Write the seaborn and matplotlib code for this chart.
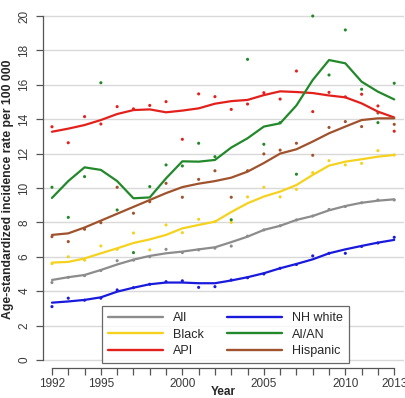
import matplotlib
matplotlib.use("Agg")
import matplotlib.pyplot as plt
import seaborn as sns
import pandas as pd
import numpy as np

years = list(range(1992, 2014))
groups = ["All", "Black", "API", "NH white", "AI/AN", "Hispanic"]
colors = ["#8c8c8c", "#f5d21e", "#e3211c", "#1a1adc", "#22892a", "#a0522d"]

all_smooth = [4.65, 4.81, 4.94, 5.23, 5.55, 5.83, 6.05, 6.2, 6.3, 6.43, 6.55, 6.85, 7.17, 7.56, 7.8, 8.14, 8.37, 8.7, 8.95, 9.14, 9.26, 9.34]
all_points = [4.5, 4.8, 4.9, 5.2, 5.77, 5.8, 6.0, 6.43, 6.24, 6.4, 6.5, 6.62, 7.2, 7.56, 7.8, 8.14, 8.37, 8.75, 8.92, 9.14, 9.3, 9.3]

black_smooth = [5.66, 5.7, 5.9, 6.2, 6.49, 6.8, 7.01, 7.27, 7.65, 7.85, 8.04, 8.6, 9.11, 9.5, 9.79, 10.17, 10.76, 11.3, 11.53, 11.67, 11.82, 11.92]
black_points = [5.6, 6.0, 5.8, 6.63, 6.43, 7.38, 6.4, 7.85, 7.4, 8.18, 8.04, 8.0, 9.48, 10.04, 9.48, 9.92, 10.89, 11.59, 11.34, 11.43, 12.17, 11.92]

api_smooth = [13.27, 13.45, 13.66, 13.95, 14.3, 14.53, 14.57, 14.4, 14.5, 14.63, 14.9, 15.05, 15.12, 15.4, 15.62, 15.58, 15.52, 15.38, 15.27, 14.92, 14.44, 14.1]
api_points = [13.56, 12.63, 14.15, 13.72, 14.73, 14.6, 14.8, 15.02, 12.83, 15.47, 15.31, 14.57, 14.88, 15.54, 15.17, 16.8, 14.44, 15.56, 15.3, 15.45, 14.77, 13.3]

nhw_smooth = [3.33, 3.4, 3.49, 3.64, 3.97, 4.2, 4.4, 4.5, 4.5, 4.46, 4.46, 4.62, 4.81, 5.04, 5.33, 5.58, 5.85, 6.2, 6.43, 6.63, 6.82, 6.98]
nhw_points = [3.1, 3.59, 3.47, 3.59, 4.07, 4.2, 4.4, 4.55, 4.6, 4.22, 4.26, 4.65, 4.78, 5.0, 5.33, 5.55, 6.05, 6.2, 6.2, 6.6, 6.8, 7.13]

aian_smooth = [9.42, 10.4, 11.2, 11.05, 10.4, 9.4, 9.45, 10.56, 11.55, 11.53, 11.63, 12.35, 12.89, 13.57, 13.76, 14.8, 16.28, 17.44, 17.25, 16.18, 15.6, 15.15]
aian_points = [10.04, 8.29, 10.66, 16.12, 8.72, 6.24, 10.08, 11.34, 11.28, 12.6, 11.82, 8.15, 17.48, 12.54, 13.8, 10.8, 20.0, 16.57, 19.19, 15.74, 13.8, 16.09]

hisp_smooth = [7.27, 7.36, 7.7, 8.1, 8.5, 8.9, 9.3, 9.7, 10.05, 10.25, 10.4, 10.6, 10.95, 11.45, 12.0, 12.25, 12.7, 13.18, 13.57, 13.95, 14.05, 14.05]
hisp_points = [7.17, 6.88, 7.6, 7.98, 10.04, 8.53, 9.2, 10.27, 9.46, 10.5, 11.0, 9.46, 11.0, 11.98, 12.2, 12.6, 11.9, 13.52, 13.86, 13.57, 14.36, 13.7]

x_tick_labels = ["1992", "1995", "2000", "2005", "2010", "2013"]
y_ticks = [0, 2, 4, 6, 8, 10, 12, 14, 16, 18, 20]

smooth = [all_smooth, black_smooth, api_smooth, nhw_smooth, aian_smooth, hisp_smooth]
points = [all_points, black_points, api_points, nhw_points, aian_points, hisp_points]

rows_s, rows_p = [], []
for g, s, p in zip(groups, smooth, points):
    for y, a, b in zip(years, s, p):
        rows_s.append({"Year": y, "Rate": a, "Group": g})
        rows_p.append({"Year": y, "Rate": b, "Group": g})
df_s = pd.DataFrame(rows_s)
df_p = pd.DataFrame(rows_p)

sns.set_theme(style="white")
plt.rcParams["font.family"] = ["Liberation Sans", "DejaVu Sans"]

fig = plt.figure(figsize=(4.06, 3.98), dpi=100)
ax = fig.add_axes([43 / 406, 30 / 398, 361 / 406, 358 / 398])
pal = dict(zip(groups, colors))

ax.set_axisbelow(True)
ax.yaxis.grid(True, color="#d9d9d9", lw=1.0)

sns.scatterplot(data=df_p, x="Year", y="Rate", hue="Group", hue_order=groups,
                palette=pal, s=5, linewidth=0, legend=False, ax=ax, zorder=3)
sns.lineplot(data=df_s, x="Year", y="Rate", hue="Group", hue_order=groups,
             palette=pal, lw=1.6, ax=ax, zorder=4)

ax.set_xlim(1991.45, 2013.6)
ax.set_ylim(-0.47, 20.35)

ax.set_xticks(years)
ax.set_xticklabels([str(y) if str(y) in x_tick_labels else "" for y in years])
ax.set_yticks(y_ticks)
ax.set_yticklabels([str(v) for v in y_ticks], rotation=90, va="center")
ax.tick_params(axis="both", length=5, width=0.9, color="#555555", labelsize=8.5,
               labelcolor="#3a3a3a", direction="out", bottom=True, left=True)
ax.tick_params(axis="x", pad=2)
ax.tick_params(axis="y", pad=4)

for sp in ["top", "right"]:
    ax.spines[sp].set_visible(False)
for sp in ["left", "bottom"]:
    ax.spines[sp].set_color("#555555")
    ax.spines[sp].set_linewidth(0.9)
ax.spines["left"].set_bounds(0, 20)
ax.spines["bottom"].set_bounds(1992, 2013)

ax.set_xlabel("Year", fontweight="bold", fontsize=8.5, labelpad=-3)
ax.set_ylabel("Age-standardized incidence rate per 100 000", fontweight="bold",
              fontsize=8.8, labelpad=3)

handles, labels = ax.get_legend_handles_labels()
leg = ax.legend(handles, labels, ncol=2, loc="upper left",
                bbox_to_anchor=(102 / 406, 1 - 306 / 398), bbox_transform=fig.transFigure,
                borderaxespad=0, frameon=True, fancybox=False, fontsize=9,
                handlelength=4.4, handletextpad=0.8, columnspacing=1.8,
                labelspacing=0.35, borderpad=0.5)
leg.get_frame().set_edgecolor("#444444")
leg.get_frame().set_linewidth(0.9)
for h in leg.get_lines():
    h.set_linewidth(1.7)

fig.savefig("out.png", dpi=100)
